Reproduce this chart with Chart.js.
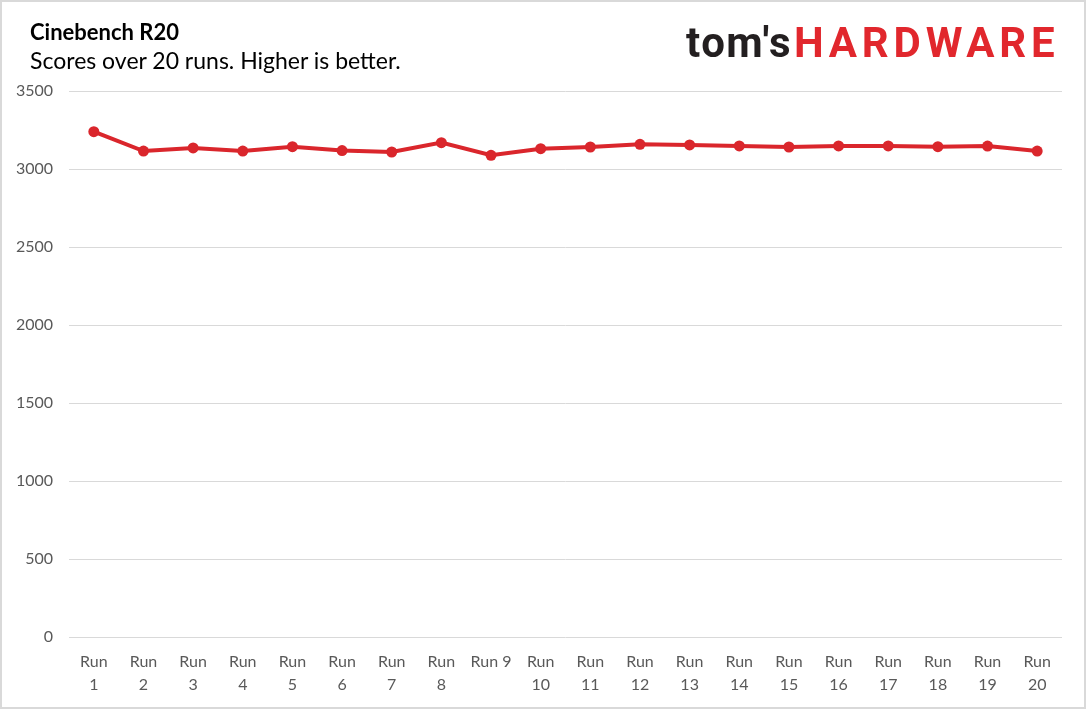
<!DOCTYPE html>
<html>
<head>
<meta charset="utf-8">
<script src="https://cdn.jsdelivr.net/npm/chart.js"></script>
<style>
  html, body { margin: 0; padding: 0; background: #fff; }
  #frame {
    position: relative;
    width: 1082px;
    height: 705px;
    border: 2px solid #d9d9d9;
    overflow: hidden;
  }
  #chart_container { position: absolute; left: -2px; top: -2px; width: 1086px; height: 709px; }
  .title { position: absolute; left: 28px; top: 16px; font: bold 22px Lato, sans-serif; color: #000; }
  .subtitle { position: absolute; left: 28px; top: 44px; font: 23px Lato, sans-serif; color: #000; }
  .logo { position: absolute; left: 684px; top: 16px; font-family: Roboto, sans-serif; font-weight: bold; font-size: 42px; white-space: nowrap; }
  .logo .toms { color: #231f20; letter-spacing: 1.5px; }
  .logo .hw { color: #e1272d; letter-spacing: 4.8px; margin-left: 2px; }
</style>
</head>
<body>
<div id="frame">
  <div id="chart_container"><canvas id="chart" width="1086" height="709"></canvas></div>
  <div class="title">Cinebench R20</div>
  <div class="subtitle">Scores over 20 runs. Higher is better.</div>
  <div class="logo"><span class="toms">tom's</span><span class="hw">HARDWARE</span></div>
</div>
<script>
const runLabels = [
  ["Run", "1"], ["Run", "2"], ["Run", "3"], ["Run", "4"], ["Run", "5"],
  ["Run", "6"], ["Run", "7"], ["Run", "8"], "Run 9", ["Run", "10"],
  ["Run", "11"], ["Run", "12"], ["Run", "13"], ["Run", "14"], ["Run", "15"],
  ["Run", "16"], ["Run", "17"], ["Run", "18"], ["Run", "19"], ["Run", "20"],
];

const scores = [
  3239, 3115, 3135, 3115, 3143, 3118, 3109, 3169, 3088, 3130,
  3141, 3158, 3154, 3148, 3141, 3148, 3148, 3143, 3147, 3115,
];

const yMin = 0;
const yMax = 3500;
const yStep = 500;

const red = "#da262c";
const grey = "#595959";

const canvas = document.getElementById("chart");

new Chart(canvas, {
  type: "line",
  data: {
    labels: runLabels,
    datasets: [
      {
        label: "Score",
        data: scores,
        borderColor: red,
        backgroundColor: red,
        borderWidth: 4,
        pointRadius: 5.5,
        pointBackgroundColor: red,
        pointBorderColor: red,
        pointBorderWidth: 0,
        tension: 0,
      },
    ],
  },
  options: {
    responsive: false,
    animation: false,
    layout: {
      padding: { top: 91, right: 24, bottom: 0, left: 0 },
    },
    plugins: {
      legend: { display: false },
      tooltip: { enabled: false },
    },
    scales: {
      y: {
        min: yMin,
        max: yMax,
        ticks: {
          stepSize: yStep,
          color: grey,
          padding: 16,
          font: { family: "Lato", size: 16 },
          callback: (value) => String(value),
        },
        grid: { color: "#d9d9d9", lineWidth: 1, drawTicks: false },
        border: { display: false },
        afterFit(scale) {
          scale.width = 69;
        },
      },
      x: {
        offset: true,
        ticks: {
          color: grey,
          padding: 13,
          maxRotation: 0,
          autoSkip: false,
          font: { family: "Lato", size: 16, lineHeight: 1.45 },
        },
        grid: { display: false, drawTicks: false },
        border: { display: false },
        afterFit(scale) {
          scale.height = 72;
        },
      },
    },
  },
});
</script>
</body>
</html>
